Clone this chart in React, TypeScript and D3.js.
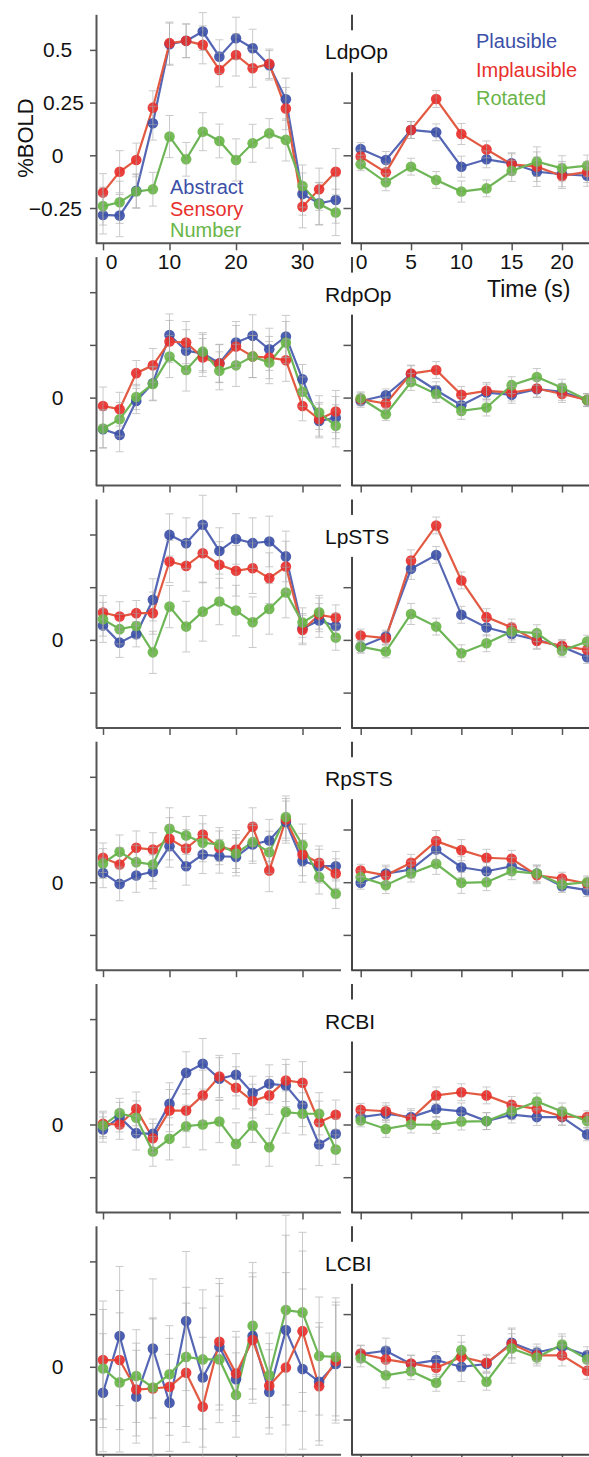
import React, { useEffect, useRef } from 'react'
import * as d3 from 'd3'

// time points (s)
const timeLeft = [0, 2.5, 5, 7.5, 10, 12.5, 15, 17.5, 20, 22.5, 25, 27.5, 30, 32.5, 35]
const timeRight = [0, 2.5, 5, 7.5, 10, 12.5, 15, 17.5, 20, 22.5]
const leftTicks = [0, 10, 20, 30]
const rightTicks = [0, 5, 10, 15, 20]
const yTicks = [0.5, 0.25, 0, -0.25]
const yTickLabels = ['0.5', '0.25', '0', '\u22120.25']
const leftNames = ['Abstract', 'Sensory', 'Number']
const rightNames = ['Plausible', 'Implausible', 'Rotated']

// LdpOp
const ldpopAbstract = [-0.283, -0.286, -0.168, 0.152, 0.527, 0.543, 0.587, 0.468, 0.555, 0.508, 0.427, 0.266, -0.184, -0.228, -0.212]
const ldpopSensory = [-0.177, -0.078, -0.022, 0.226, 0.532, 0.543, 0.524, 0.405, 0.476, 0.413, 0.434, 0.222, -0.244, -0.161, -0.078]
const ldpopNumber = [-0.241, -0.223, -0.172, -0.161, 0.089, -0.019, 0.112, 0.068, -0.022, 0.057, 0.104, 0.073, -0.146, -0.231, -0.271]
const ldpopErrL = [0.09, 0.1, 0.08, 0.08, 0.1, 0.08, 0.09, 0.08, 0.1, 0.09, 0.07, 0.1, 0.1, 0.1, 0.11]
const ldpopPlausible = [0.03, -0.022, 0.12, 0.109, -0.054, -0.019, -0.038, -0.078, -0.089, -0.097]
const ldpopImplausible = [-0.006, -0.081, 0.12, 0.267, 0.101, 0.028, -0.043, -0.054, -0.098, -0.079]
const ldpopRotated = [-0.043, -0.128, -0.054, -0.117, -0.172, -0.157, -0.074, -0.03, -0.062, -0.049]
const ldpopErrR = [0.03, 0.04, 0.04, 0.04, 0.05, 0.04, 0.05, 0.07, 0.06, 0.05]

// RdpOp
const rdpopAbstract = [-0.15, -0.177, -0.016, 0.068, 0.297, 0.222, 0.21, 0.163, 0.261, 0.293, 0.229, 0.29, 0.087, -0.111, -0.095]
const rdpopSensory = [-0.04, -0.055, 0.116, 0.153, 0.266, 0.261, 0.19, 0.161, 0.242, 0.195, 0.19, 0.177, -0.04, -0.103, -0.066]
const rdpopNumber = [-0.147, -0.103, 0.003, 0.065, 0.195, 0.131, 0.218, 0.127, 0.153, 0.195, 0.166, 0.261, 0.028, -0.071, -0.134]
const rdpopErrL = [0.09, 0.08, 0.06, 0.08, 0.1, 0.1, 0.09, 0.09, 0.1, 0.1, 0.1, 0.1, 0.07, 0.08, 0.1]
const rdpopPlausible = [-0.016, 0.011, 0.111, 0.035, -0.036, 0.024, 0.013, 0.04, 0.027, -0.013]
const rdpopImplausible = [-0.008, -0.028, 0.114, 0.131, 0.013, 0.032, 0.024, 0.043, 0.017, -0.011]
const rdpopRotated = [-0.003, -0.079, 0.074, 0.017, -0.063, -0.047, 0.059, 0.098, 0.047, -0.011]
const rdpopErrR = [0.03, 0.03, 0.04, 0.04, 0.04, 0.04, 0.04, 0.04, 0.04, 0.03]

// LpSTS
const lpstsAbstract = [0.068, -0.013, 0.027, 0.19, 0.498, 0.459, 0.546, 0.422, 0.479, 0.459, 0.467, 0.396, 0.055, 0.092, 0.066]
const lpstsSensory = [0.13, 0.111, 0.127, 0.127, 0.372, 0.351, 0.411, 0.356, 0.328, 0.34, 0.293, 0.348, 0.047, 0.119, 0.106]
const lpstsNumber = [0.098, 0.051, 0.066, -0.059, 0.158, 0.063, 0.134, 0.182, 0.139, 0.084, 0.147, 0.225, 0.082, 0.131, 0.011]
const lpstsErrL = [0.08, 0.07, 0.06, 0.1, 0.1, 0.12, 0.14, 0.11, 0.12, 0.12, 0.12, 0.12, 0.07, 0.08, 0.06]
const lpstsPlausible = [-0.032, 0.016, 0.337, 0.403, 0.119, 0.059, 0.028, 0, -0.032, -0.082]
const lpstsImplausible = [0.021, 0.008, 0.377, 0.543, 0.282, 0.108, 0.059, -0.005, -0.028, -0.047]
const lpstsRotated = [-0.032, -0.055, 0.123, 0.063, -0.063, -0.016, 0.04, 0.032, -0.051, -0.008]
const lpstsErrR = [0.03, 0.03, 0.05, 0.04, 0.04, 0.04, 0.04, 0.04, 0.03, 0.03]

// RpSTS
const rpstsAbstract = [0.044, -0.008, 0.032, 0.049, 0.171, 0.076, 0.131, 0.123, 0.12, 0.179, 0.198, 0.285, 0.1, 0.076, 0.076]
const rpstsSensory = [0.116, 0.084, 0.163, 0.155, 0.206, 0.16, 0.226, 0.163, 0.155, 0.263, 0.055, 0.297, 0.131, 0.092, 0.041]
const rpstsNumber = [0.089, 0.144, 0.095, 0.084, 0.253, 0.222, 0.187, 0.179, 0.136, 0.19, 0.142, 0.309, 0.176, 0.024, -0.055]
const rpstsErrL = [0.07, 0.08, 0.08, 0.08, 0.1, 0.09, 0.09, 0.08, 0.09, 0.09, 0.1, 0.1, 0.1, 0.08, 0.07]
const rpstsPlausible = [-0.003, 0.041, 0.06, 0.155, 0.071, 0.052, 0.076, 0.041, -0.019, -0.038]
const rpstsImplausible = [0.055, 0.033, 0.092, 0.195, 0.152, 0.116, 0.111, 0.033, 0.017, -0.006]
const rpstsRotated = [0.024, -0.014, 0.041, 0.087, -0.003, 0, 0.052, 0.041, -0.011, 0]
const rpstsErrR = [0.03, 0.04, 0.04, 0.05, 0.05, 0.04, 0.04, 0.04, 0.03, 0.03]

// RCBI
const rcbiAbstract = [-0.024, 0.035, -0.041, -0.044, 0.098, 0.245, 0.288, 0.217, 0.236, 0.149, 0.193, 0.185, 0.09, -0.095, -0.044]
const rcbiSensory = [0.003, 0, 0.074, -0.065, 0.066, 0.066, 0.138, 0.228, 0.174, 0.111, 0.138, 0.209, 0.198, 0.011, 0.046]
const rcbiNumber = [-0.005, 0.054, 0.032, -0.128, -0.068, -0.008, 0, 0.014, -0.092, -0.005, -0.108, 0.059, 0.051, 0.051, -0.119]
const rcbiErrL = [0.06, 0.07, 0.08, 0.07, 0.1, 0.1, 0.12, 0.1, 0.1, 0.08, 0.09, 0.1, 0.1, 0.1, 0.07]
const rcbiPlausible = [0.035, 0.051, 0.035, 0.074, 0.062, 0.016, 0.047, 0.035, 0.035, -0.047]
const rcbiImplausible = [0.07, 0.063, 0.027, 0.138, 0.153, 0.138, 0.093, 0.074, 0.038, 0.035]
const rcbiRotated = [0.019, -0.021, 0, -0.002, 0.014, 0.016, 0.063, 0.109, 0.062, 0.016]
const rcbiErrR = [0.03, 0.04, 0.04, 0.04, 0.04, 0.04, 0.04, 0.04, 0.04, 0.03]

// LCBI
const lcbiAbstract = [-0.123, 0.146, -0.142, 0.087, -0.171, 0.217, -0.051, 0.095, -0.059, 0.146, -0.119, 0.174, -0.011, -0.071, 0.013]
const lcbiSensory = [0.032, 0.032, -0.108, -0.103, -0.095, -0.028, -0.19, 0.119, -0.032, 0.127, -0.09, -0.003, 0.169, -0.092, 0.027]
const lcbiNumber = [-0.008, -0.074, -0.044, -0.098, -0.035, 0.047, 0.035, 0.035, -0.134, 0.195, -0.04, 0.269, 0.258, 0.051, 0.047]
const lcbiErrL = [0.28, 0.33, 0.22, 0.33, 0.23, 0.33, 0.33, 0.3, 0.2, 0.3, 0.2, 0.45, 0.38, 0.28, 0.28]
const lcbiPlausible = [0.06, 0.076, 0.013, 0.032, 0, 0.013, 0.114, 0.068, 0.095, 0.055]
const lcbiImplausible = [0.063, 0.035, 0.016, -0.005, 0.047, 0.019, 0.108, 0.054, 0.054, -0.019]
const lcbiRotated = [0.04, -0.04, -0.021, -0.076, 0.079, -0.071, 0.087, 0.044, 0.106, 0.035]
const lcbiErrR = [0.04, 0.06, 0.04, 0.04, 0.07, 0.04, 0.07, 0.04, 0.05, 0.04]

const panels = [
  { name: 'LdpOp', left: [ldpopAbstract, ldpopSensory, ldpopNumber], leftErr: ldpopErrL, right: [ldpopPlausible, ldpopImplausible, ldpopRotated], rightErr: ldpopErrR },
  { name: 'RdpOp', left: [rdpopAbstract, rdpopSensory, rdpopNumber], leftErr: rdpopErrL, right: [rdpopPlausible, rdpopImplausible, rdpopRotated], rightErr: rdpopErrR },
  { name: 'LpSTS', left: [lpstsAbstract, lpstsSensory, lpstsNumber], leftErr: lpstsErrL, right: [lpstsPlausible, lpstsImplausible, lpstsRotated], rightErr: lpstsErrR },
  { name: 'RpSTS', left: [rpstsAbstract, rpstsSensory, rpstsNumber], leftErr: rpstsErrL, right: [rpstsPlausible, rpstsImplausible, rpstsRotated], rightErr: rpstsErrR },
  { name: 'RCBI', left: [rcbiAbstract, rcbiSensory, rcbiNumber], leftErr: rcbiErrL, right: [rcbiPlausible, rcbiImplausible, rcbiRotated], rightErr: rcbiErrR },
  { name: 'LCBI', left: [lcbiAbstract, lcbiSensory, lcbiNumber], leftErr: lcbiErrL, right: [lcbiPlausible, lcbiImplausible, lcbiRotated], rightErr: lcbiErrR },
]

const markerColors = ['#3c50a8', '#e8302c', '#69b548']
const lineColors = ['#5566b4', '#e25a42', '#6db556']
const font = 'Liberation Sans, Arial, Helvetica, sans-serif'

const W = 589
const H = 1457

export default function App() {
  const ref = useRef<SVGSVGElement>(null)

  useEffect(() => {
    const svg = d3.select(ref.current)
    svg.selectAll('*').remove()

    const firstZero = 155.3
    const step = 242.3
    const pxPerUnit = 210.8
    const leftAxisX = 96
    const rightAxisX = 351.5

    const xL = d3.scaleLinear().domain([0, 35]).range([103, 335.75])
    const xR = d3.scaleLinear().domain([0, 20]).range([360.7, 562])

    panels.forEach((p, i) => {
      const zero = firstZero + i * step
      const y = d3.scaleLinear().domain([-88 / pxPerUnit, 141 / pxPerUnit]).range([zero + 88, zero - 141])
      const g = svg.append('g')
      const axisBottomY = zero + 88

      // left y axis
      const ly = g.append('g').attr('transform', `translate(${leftAxisX},0)`)
        .call(d3.axisLeft(y).tickValues(yTicks).tickSize(6).tickSizeOuter(0).tickFormat(() => ''))
      ly.select('.domain').attr('stroke', '#555').attr('stroke-width', 2)
      ly.selectAll('.tick line').attr('stroke', '#555').attr('stroke-width', 1.5)

      // left x axis
      const lx = g.append('g').attr('transform', `translate(0,${axisBottomY})`)
        .call(d3.axisBottom(xL).tickValues(leftTicks).tickSize(7).tickSizeOuter(0).tickFormat(() => ''))
      lx.select('.domain').remove()
      lx.selectAll('.tick line').attr('stroke', '#555').attr('stroke-width', 1.5)
      g.append('line').attr('x1', leftAxisX).attr('x2', 341).attr('y1', axisBottomY).attr('y2', axisBottomY)
        .attr('stroke', '#555').attr('stroke-width', 2)

      // right y axis
      const ry = g.append('g').attr('transform', `translate(${rightAxisX},0)`)
        .call(d3.axisLeft(y).tickValues(yTicks).tickSize(8).tickSizeOuter(0).tickFormat(() => ''))
      ry.select('.domain').attr('stroke', '#444').attr('stroke-width', 2)
      ry.selectAll('.tick line').attr('stroke', '#555').attr('stroke-width', 1.5)

      // right x axis
      const rx = g.append('g').attr('transform', `translate(0,${axisBottomY})`)
        .call(d3.axisBottom(xR).tickValues(rightTicks).tickSize(7).tickSizeOuter(0).tickFormat(() => ''))
      rx.select('.domain').remove()
      rx.selectAll('.tick line').attr('stroke', '#555').attr('stroke-width', 1.5)
      g.append('line').attr('x1', rightAxisX).attr('x2', W).attr('y1', axisBottomY).attr('y2', axisBottomY)
        .attr('stroke', '#444').attr('stroke-width', 2)

      // region label over the right axis
      g.append('rect').attr('x', 318).attr('y', zero - 125).attr('width', 76).attr('height', 42).attr('fill', '#fff')
      g.append('text').attr('x', 325).attr('y', zero - 96)
        .style('font-family', font).style('font-size', '21px').attr('fill', '#111')
        .text(p.name)

      // y tick label(s)
      yTicks.forEach((v, k) => {
        if (i > 0 && v !== 0) return
        const lab = yTickLabels[k]
        const t = g.append('text').attr('y', y(v) + 7.5)
          .style('font-family', font).style('font-size', '21px').attr('fill', '#111').text(lab)
        if (v === 0) t.attr('x', 57.5).attr('text-anchor', 'middle')
        else if (v < 0) t.attr('x', 82).attr('text-anchor', 'end')
        else t.attr('x', 43).attr('text-anchor', 'start')
      })

      const sides = [
        { x: xL, times: timeLeft, series: p.left, err: p.leftErr },
        { x: xR, times: timeRight, series: p.right, err: p.rightErr },
      ]

      sides.forEach(side => {
        const line = d3.line<number>()
          .x((_, j) => side.x(side.times[j]))
          .y(d => y(d))
        side.series.forEach((vals, s) => {
          g.append('path').datum(vals).attr('d', line)
            .attr('fill', 'none').attr('stroke', lineColors[s]).attr('stroke-width', 2.2)
        })
        side.series.forEach((vals, s) => {
          g.append('g').selectAll('circle').data(vals).join('circle')
            .attr('cx', (_, j) => side.x(side.times[j]))
            .attr('cy', d => y(d))
            .attr('r', 5.3)
            .attr('fill', markerColors[s])
            .attr('opacity', 0.92)
        })
        // error bars drawn faintly on top
        side.series.forEach(vals => {
          const eb = g.append('g').attr('stroke', '#a8a8a8').attr('stroke-width', 1).attr('opacity', 0.6)
          vals.forEach((v, j) => {
            const cx = side.x(side.times[j])
            const e = side.err[j]
            eb.append('line').attr('x1', cx).attr('x2', cx).attr('y1', y(v - e)).attr('y2', y(v + e))
            eb.append('line').attr('x1', cx - 4).attr('x2', cx + 4).attr('y1', y(v - e)).attr('y2', y(v - e))
            eb.append('line').attr('x1', cx - 4).attr('x2', cx + 4).attr('y1', y(v + e)).attr('y2', y(v + e))
          })
        })
      })

      // x tick labels on the first panel only
      if (i === 0) {
        leftTicks.forEach(t => {
          g.append('text').attr('x', xL(t) + (t === 0 ? 8.5 : 0)).attr('y', axisBottomY + 26)
            .attr('text-anchor', 'middle').style('font-family', font).style('font-size', '21px').attr('fill', '#111')
            .text(t)
        })
        rightTicks.forEach(t => {
          g.append('text').attr('x', xR(t) + (t === 0 ? 1 : 0)).attr('y', axisBottomY + 26)
            .attr('text-anchor', 'middle').style('font-family', font).style('font-size', '21px').attr('fill', '#111')
            .text(t)
        })
      }
    })

    // axis titles
    svg.append('text').attr('transform', 'translate(33,138) rotate(-90)').attr('text-anchor', 'middle')
      .style('font-family', font).style('font-size', '22px').attr('fill', '#111').text('%BOLD')
    svg.append('text').attr('x', 487).attr('y', 297)
      .style('font-family', font).style('font-size', '23px').attr('fill', '#111').text('Time (s)')

    // legends
    leftNames.forEach((n, k) => {
      svg.append('text').attr('x', 170).attr('y', 194 + k * 21.5)
        .style('font-family', font).style('font-size', '20px').attr('fill', markerColors[k]).text(n)
    })
    rightNames.forEach((n, k) => {
      svg.append('text').attr('x', 476).attr('y', 48 + k * 28.5)
        .style('font-family', font).style('font-size', '20px').attr('fill', markerColors[k]).text(n)
    })
  })

  return (
    <svg ref={ref} width={W} height={H} style={{ position: 'absolute', left: 0, top: 0, background: '#fff' }} />
  )
}
